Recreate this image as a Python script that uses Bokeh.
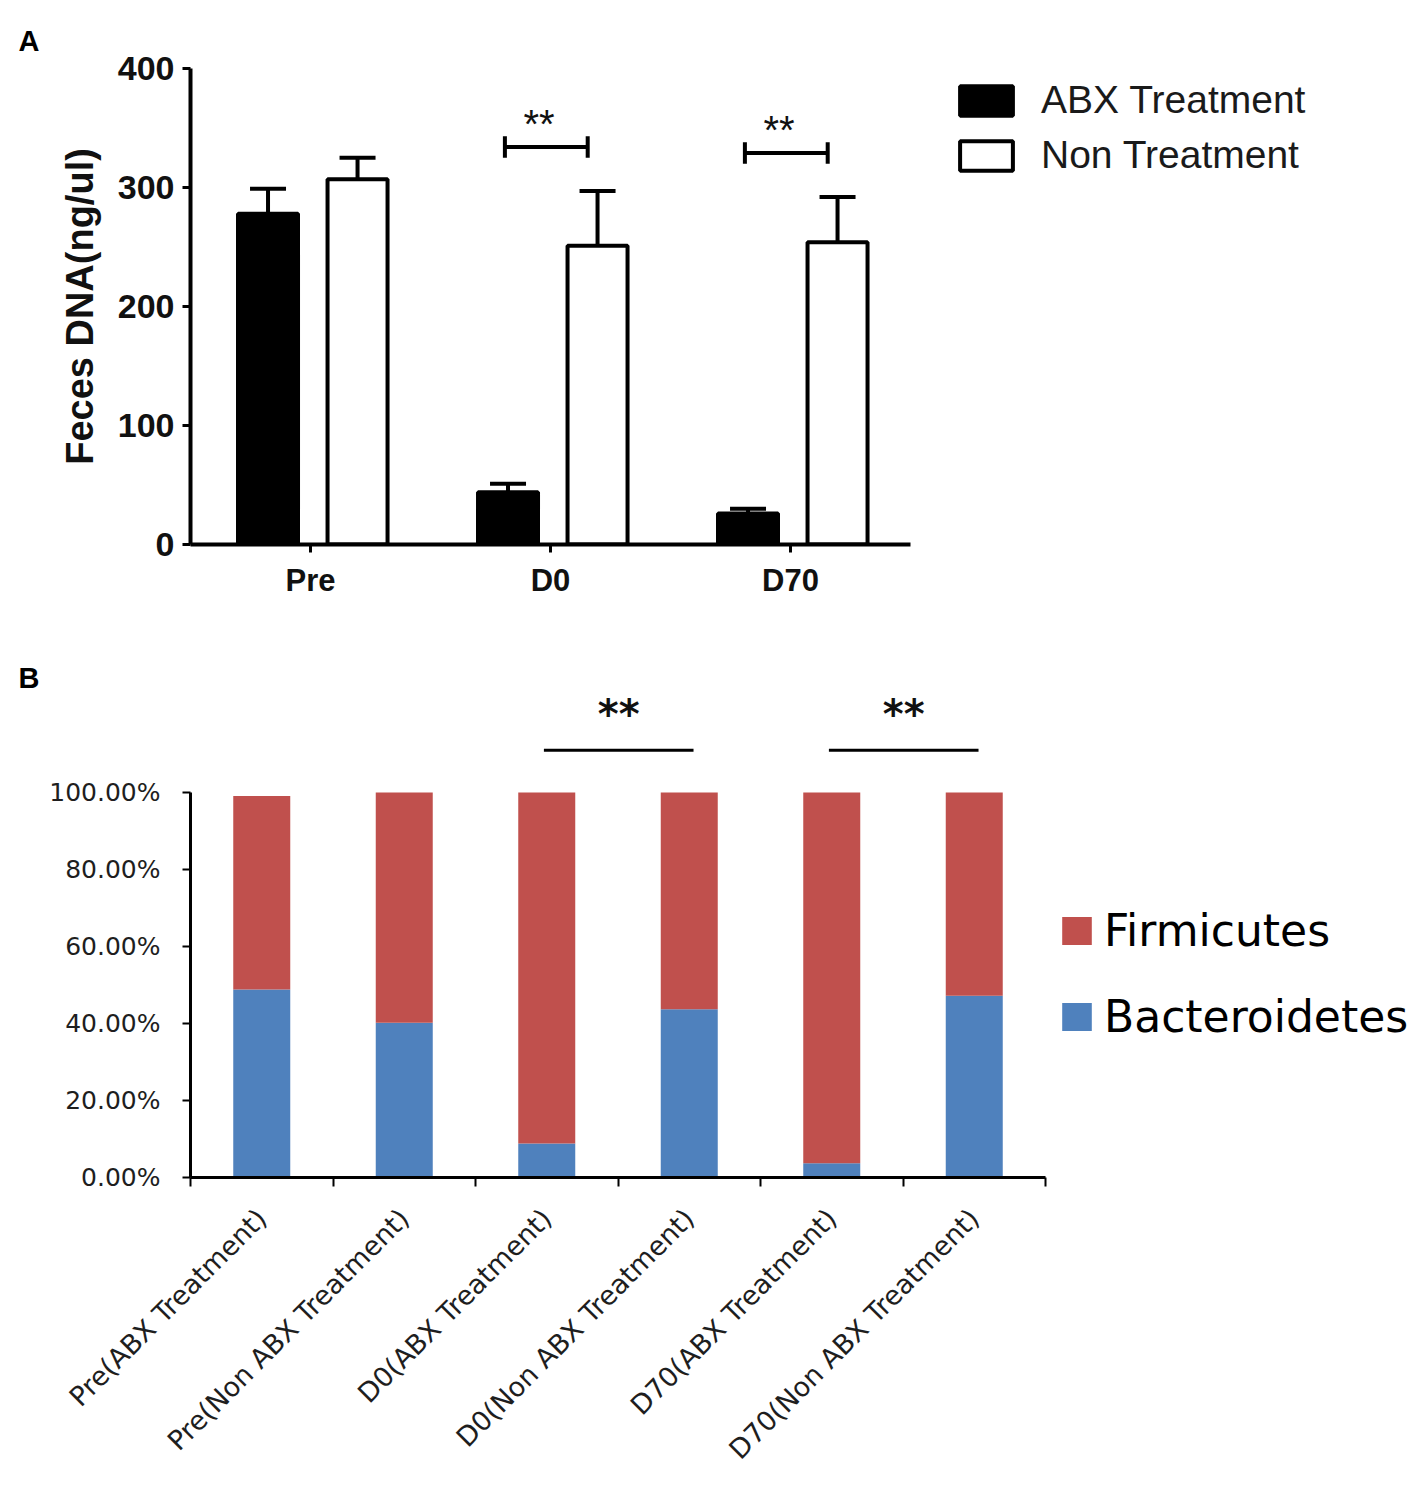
import math
from bokeh.plotting import figure
from bokeh.models import Range1d, FixedTicker, Legend, LegendItem, ColumnDataSource
from bokeh.layouts import column
from bokeh.embed import file_html
from bokeh.resources import INLINE
from bokeh.core.properties import value

# ---------------- Panel A data ----------------
groups_a = ["Pre", "D0", "D70"]
abx_mean = [278, 44, 26]
abx_err = [21, 7, 4]
non_mean = [307, 251, 254]
non_err = [18, 46, 38]
sig_a_group = [1, 2]          # index of group with significance bracket
sig_a_level = [334, 329]      # bracket height (ng/ul)
sig_a_text = ["**", "**"]
y_ticks_a = [0, 100, 200, 300, 400]

# ---------------- Panel B data ----------------
categories_b = ["Pre(ABX Treatment)", "Pre(Non ABX Treatment)", "D0(ABX Treatment)",
                "D0(Non ABX Treatment)", "D70(ABX Treatment)", "D70(Non ABX Treatment)"]
bacteroidetes = [48.8, 40.2, 8.8, 43.7, 3.7, 47.2]
firmicutes = [50.3, 59.8, 91.2, 56.3, 96.3, 52.8]
sig_b_pairs = [(2, 3), (4, 5)]
sig_b_level = [111, 111]
sig_b_text = ["**", "**"]
y_ticks_b = [0, 20, 40, 60, 80, 100]
y_tick_labels_b = ["0.00%", "20.00%", "40.00%", "60.00%", "80.00%", "100.00%"]

RED = "#C0504D"
BLUE = "#4F81BD"
FA = "Liberation Sans"
FB = "DejaVu Sans"

W = 1413
LEFT = 190
# ================= Panel A =================
HA = 648
pa = figure(width=W, height=HA, output_backend="svg", toolbar_location=None,
            x_range=Range1d(0, (W - LEFT) / 240), y_range=Range1d(0, 400),
            min_border_left=LEFT, min_border_right=0, min_border_top=68, min_border_bottom=104)
pa.outline_line_color = None
pa.grid.visible = False
pa.title.text = "A"
pa.title.align = "left"
pa.title.offset = 18 - LEFT
pa.title.standoff = 24
pa.title.text_font = FA
pa.title.text_font_size = "29px"
pa.title.text_font_style = "bold"
pa.title.text_color = "black"

n = len(groups_a)
centers = [i + 0.5 for i in range(n)]
xa = [c - 0.177 for c in centers]
xn = [c + 0.196 for c in centers]
abx_top = [m + e for m, e in zip(abx_mean, abx_err)]
non_top = [m + e for m, e in zip(non_mean, non_err)]
src_a = ColumnDataSource(dict(xa=xa, xn=xn, abx=abx_mean, non=non_mean,
                              abx_top=abx_top, non_top=non_top))
bw = 0.25
cap = 0.075
# error bars (upper only)
pa.segment(x0="xa", y0="abx", x1="xa", y1="abx_top", source=src_a, line_color="black", line_width=4)
pa.segment(x0="xn", y0="non", x1="xn", y1="non_top", source=src_a, line_color="black", line_width=4)
pa.segment(x0=[x - cap for x in xa], y0=abx_top, x1=[x + cap for x in xa], y1=abx_top,
           line_color="black", line_width=4)
pa.segment(x0=[x - cap for x in xn], y0=non_top, x1=[x + cap for x in xn], y1=non_top,
           line_color="black", line_width=4)
r_abx = pa.vbar(x="xa", top="abx", bottom=0, width=bw, source=src_a,
                fill_color="black", line_color="black", line_width=4)
r_non = pa.vbar(x="xn", top="non", bottom=0, width=bw, source=src_a,
                fill_color="white", line_color="black", line_width=4)

# significance brackets
for g, lvl, t in zip(sig_a_group, sig_a_level, sig_a_text):
    x0 = g + 0.5 - 0.19
    x1 = g + 0.5 + 0.155
    pa.segment(x0=[x0], y0=[lvl], x1=[x1], y1=[lvl], line_color="black", line_width=4)
    pa.segment(x0=[x0, x1], y0=[lvl - 9, lvl - 9], x1=[x0, x1], y1=[lvl + 9, lvl + 9],
               line_color="black", line_width=4)
    pa.text(x=[(x0 + x1) / 2 - 0.03], y=[lvl + 19], text=[t], text_align="center", text_baseline="alphabetic",
            text_font=value(FA), text_font_size="40px", text_color="#111")

xa_ax = pa.xaxis[0]
xa_ax.bounds = (0, n)
xa_ax.ticker = FixedTicker(ticks=centers, minor_ticks=[])
xa_ax.major_label_overrides = {c: g for c, g in zip(centers, groups_a)}
ya_ax = pa.yaxis[0]
ya_ax.bounds = (0, 400)
ya_ax.ticker = FixedTicker(ticks=y_ticks_a, minor_ticks=[])
ya_ax.axis_label = "Feces DNA(ng/ul)"
for ax in (xa_ax, ya_ax):
    ax.axis_line_width = 4
    ax.axis_line_color = "black"
    ax.major_tick_line_width = 3
    ax.major_tick_line_color = "black"
    ax.major_tick_in = 0
    ax.major_tick_out = 8
    ax.minor_tick_line_color = None
    ax.major_label_text_font = FA
    ax.major_label_text_font_style = "bold"
    ax.major_label_text_color = "#111"
ya_ax.major_label_text_font_size = "34px"
xa_ax.major_label_text_font_size = "31px"
ya_ax.major_label_standoff = 8
xa_ax.major_label_standoff = 10
ya_ax.axis_label_text_font = FA
ya_ax.axis_label_text_font_style = "bold"
ya_ax.axis_label_text_font_size = "38px"
ya_ax.axis_label_text_color = "#111"
ya_ax.axis_label_standoff = 14

leg_a = Legend(items=[LegendItem(label="ABX Treatment", renderers=[r_abx]),
                      LegendItem(label="Non Treatment", renderers=[r_non])],
               location=(763, 367), orientation="vertical")
leg_a.glyph_width = 66
leg_a.glyph_height = 37
leg_a.label_standoff = 22
leg_a.spacing = 11
leg_a.padding = 0
leg_a.margin = 0
leg_a.border_line_color = None
leg_a.background_fill_alpha = 0
leg_a.label_text_font = FA
leg_a.label_text_font_size = "39px"
leg_a.label_text_color = "#1a1a1a"
pa.add_layout(leg_a)

# ================= Panel B =================
HB = 831
TOPB = 48
ymax_b = 100 + (144 - TOPB) / 3.85
pb = figure(width=W, height=HB, output_backend="svg", toolbar_location=None,
            x_range=Range1d(0, (W - LEFT) / 142.5), y_range=Range1d(0, ymax_b),
            min_border_left=LEFT, min_border_right=0, min_border_top=TOPB, min_border_bottom=302)
pb.outline_line_color = None
pb.grid.visible = False
pb.title.text = "B"
pb.title.align = "left"
pb.title.offset = 18 - LEFT
pb.title.standoff = 6
pb.title.text_font = FA
pb.title.text_font_size = "29px"
pb.title.text_font_style = "bold"
pb.title.text_color = "black"

m = len(categories_b)
centers_b = [i + 0.5 for i in range(m)]
src_b = ColumnDataSource(dict(x=centers_b, Bacteroidetes=bacteroidetes, Firmicutes=firmicutes))
rs = pb.vbar_stack(["Bacteroidetes", "Firmicutes"], x="x", width=0.4, color=[BLUE, RED],
                   line_color=None, source=src_b)

for (a, b), lvl, t in zip(sig_b_pairs, sig_b_level, sig_b_text):
    x0 = a + 0.5 - 0.02
    x1 = b + 0.5 + 0.03
    pb.segment(x0=[x0], y0=[lvl], x1=[x1], y1=[lvl], line_color="black", line_width=3)
    pb.text(x=[(x0 + x1) / 2], y=[lvl + 9.5], text=[t], text_align="center", text_baseline="alphabetic",
            text_font=value(FB), text_font_style="bold", text_font_size="40px", text_color="#111")

xb_ax = pb.xaxis[0]
xb_ax.bounds = (0, m)
xb_ax.ticker = FixedTicker(ticks=centers_b, minor_ticks=list(range(m + 1)))
xb_ax.major_label_overrides = {c: g for c, g in zip(centers_b, categories_b)}
xb_ax.major_label_orientation = math.pi / 4
xb_ax.major_tick_line_color = None
xb_ax.minor_tick_line_color = "black"
xb_ax.minor_tick_line_width = 2
xb_ax.minor_tick_in = 0
xb_ax.minor_tick_out = 9
xb_ax.major_label_standoff = 27
xb_ax.major_label_text_font_size = "27px"
yb_ax = pb.yaxis[0]
yb_ax.bounds = (0, 100)
yb_ax.ticker = FixedTicker(ticks=y_ticks_b, minor_ticks=[])
yb_ax.major_label_overrides = {t: l for t, l in zip(y_ticks_b, y_tick_labels_b)}
yb_ax.major_tick_line_color = "black"
yb_ax.major_tick_line_width = 2
yb_ax.major_tick_in = 0
yb_ax.major_tick_out = 8
yb_ax.minor_tick_line_color = None
yb_ax.major_label_standoff = 22
yb_ax.major_label_text_font_size = "25px"
for ax in (xb_ax, yb_ax):
    ax.axis_line_width = 3
    ax.axis_line_color = "black"
    ax.major_label_text_font = FB
    ax.major_label_text_color = "#1e1e1e"

leg_b = Legend(items=[LegendItem(label="Firmicutes", renderers=[rs[1]]),
                      LegendItem(label="Bacteroidetes", renderers=[rs[0]])],
               location=(868, 135), orientation="vertical")
leg_b.glyph_width = 37
leg_b.glyph_height = 35
leg_b.label_standoff = 9
leg_b.spacing = 35
leg_b.padding = 0
leg_b.margin = 0
leg_b.border_line_color = None
leg_b.background_fill_alpha = 0
leg_b.label_text_font = FB
leg_b.label_text_font_size = "44px"
leg_b.label_text_color = "black"
pb.add_layout(leg_b)

layout = column(pa, pb, spacing=0)
open("out.html", "w").write(file_html(layout, INLINE))
